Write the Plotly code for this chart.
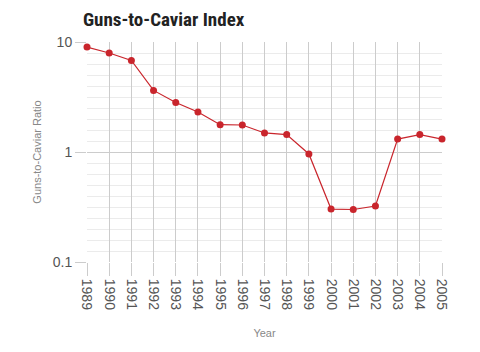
import plotly.graph_objects as go

years = list(range(1989, 2006))
ratio = [9.0, 7.94, 6.8, 3.63, 2.82, 2.31, 1.77, 1.76, 1.49, 1.44, 0.96,
         0.303, 0.30, 0.323, 1.31, 1.44, 1.31]
y_ticks = [0.1, 1, 10]
y_tick_text = ["0.1", "1", "10"]

fig = go.Figure(go.Scatter(
    x=years, y=ratio, mode="lines+markers",
    line=dict(color="#c9252c", width=1.2),
    marker=dict(color="#c9252c", size=7),
    cliponaxis=False,
    hoverinfo="skip",
))

fig.update_layout(
    width=480, height=352,
    margin=dict(l=87, r=38, t=42, b=90),
    paper_bgcolor="white", plot_bgcolor="white",
    showlegend=False,
    title=dict(text="<b>Guns-to-Caviar Index</b>", x=83/480, xanchor="left",
               y=1-19/352, yanchor="middle",
               font=dict(family="Roboto Condensed, Roboto, sans-serif", size=19, color="#222")),
    font=dict(family="Liberation Sans, Arial, sans-serif"),
)
fig.update_xaxes(
    range=[1989, 2005], tickvals=years, ticktext=[str(y) for y in years],
    tickangle=90, showgrid=True, gridcolor="#cccccc", gridwidth=1,
    ticks="outside", ticklen=13, tickcolor="#cccccc",
    tickfont=dict(size=14, color="#555555"), zeroline=False, showline=False,
    title=dict(text="Year", font=dict(size=11, color="#888888"), standoff=20),
)
fig.update_yaxes(
    type="log", range=[-1, 1], tickvals=y_ticks, ticktext=y_tick_text,
    showgrid=True, gridcolor="#cccccc", gridwidth=1,
    ticks="outside", ticklen=11, tickcolor="#cccccc",
    tickfont=dict(size=14, color="#555555"), zeroline=False, showline=False,
    minor=dict(dtick=0.1, showgrid=True, gridcolor="#ebebeb", ticks=""),
    title=dict(text="Guns-to-Caviar Ratio", font=dict(size=11, color="#888888"), standoff=8),
)

fig.write_html("out.html")
